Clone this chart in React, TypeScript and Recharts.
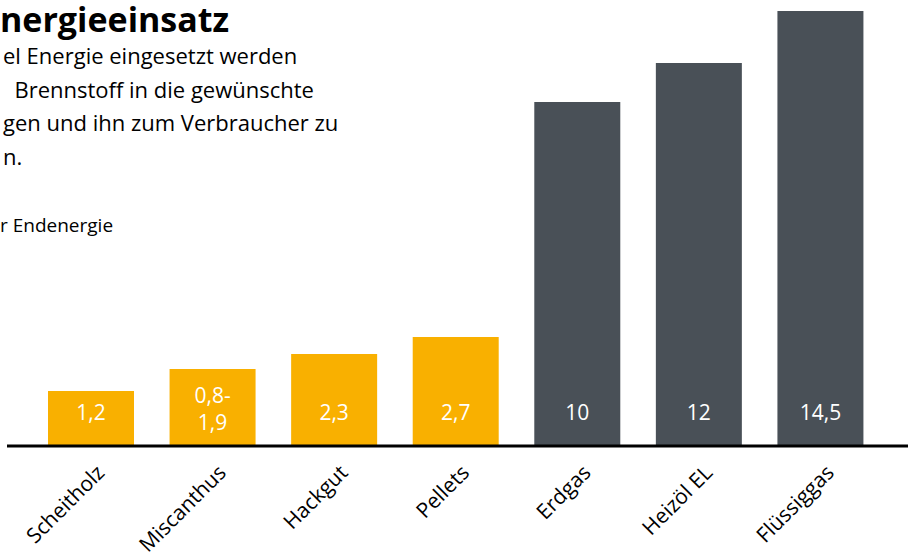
import React from 'react';
import { BarChart, Bar, XAxis, YAxis, Cell, LabelList } from 'recharts';

// Brennstoffe
const categories = ['Scheitholz', 'Miscanthus', 'Hackgut', 'Pellets', 'Erdgas', 'Heizöl EL', 'Flüssiggas'];
// Balkenhöhen wie im Bild gezeichnet (nicht maßstäblich zu den Beschriftungen)
const barHeights = [1.83, 2.57, 3.07, 3.63, 11.47, 12.77, 14.5];
// Beschriftungen in den Balken
const valueLabels = ['1,2', '0,8-\n1,9', '2,3', '2,7', '10', '12', '14,5'];
// erneuerbar (orange) / fossil (grau)
const groups = ['bio', 'bio', 'bio', 'bio', 'fossil', 'fossil', 'fossil'];

const COLORS: Record<string, string> = { bio: '#F9B000', fossil: '#495057' };
const FONT = '"Open Sans", sans-serif';

const data = categories.map((name, i) => ({ name, value: barHeights[i], label: valueLabels[i], group: groups[i] }));

const CategoryTick = (props: any) => {
  const { x, payload } = props;
  return (
    <g transform={`translate(${x + 15},${474})`}>
      <text transform="rotate(-45)" textAnchor="end" fontSize={21} fontFamily={FONT} fill="#000">
        {payload.value}
      </text>
    </g>
  );
};

const BarValue = (props: any) => {
  const { x, y, width, height, index } = props;
  const lines = String(valueLabels[index]).split('\n');
  const cx = x + width / 2;
  const bottom = y + height;
  if (lines.length === 1) {
    return (
      <text x={cx} y={bottom - 26} textAnchor="middle" fontSize={21} fontFamily={FONT} fill="#fff">
        {lines[0]}
      </text>
    );
  }
  return (
    <text textAnchor="middle" fontSize={21} fontFamily={FONT} fill="#fff">
      <tspan x={cx} y={bottom - 43.5}>{lines[0]}</tspan>
      <tspan x={cx} y={bottom - 16.5}>{lines[1]}</tspan>
    </text>
  );
};

export default function App() {
  return (
    <div style={{ position: 'absolute', left: 0, top: 0, width: 908, height: 553, background: '#fff', overflow: 'hidden' }}>
      <BarChart width={908} height={553} data={data} margin={{ top: 2, right: 0, left: 7, bottom: 0 }}>
        <YAxis hide domain={[0, 14.8]} />
        <XAxis
          dataKey="name"
          axisLine={{ stroke: '#000', strokeWidth: 3 }}
          tickLine={false}
          tick={<CategoryTick />}
          interval={0}
          padding={{ left: 23, right: 27 }}
          height={107}
        />
        <Bar dataKey="value" barSize={86} isAnimationActive={false}>
          {data.map((d, i) => (
            <Cell key={`c-${i}`} fill={COLORS[d.group]} />
          ))}
          <LabelList dataKey="label" content={<BarValue />} />
        </Bar>
      </BarChart>

      <div style={{ position: 'absolute', left: 0, top: 0, fontFamily: FONT, color: '#000' }}>
        <div style={{ position: 'absolute', left: 0, top: 1, fontSize: 34, lineHeight: '36px', fontWeight: 700, whiteSpace: 'nowrap' }}>nergieeinsatz</div>
        <div style={{ position: 'absolute', left: 3, top: 39, fontSize: 22, lineHeight: '33.5px', whiteSpace: 'nowrap' }}>
          el Energie eingesetzt werden
          <br />
          &nbsp; Brennstoff in die gewünschte
          <br />
          gen und ihn zum Verbraucher zu
          <br />
          n.
        </div>
        <div style={{ position: 'absolute', left: 0, top: 212, fontSize: 19, whiteSpace: 'nowrap' }}>r Endenergie</div>
      </div>
    </div>
  );
}
